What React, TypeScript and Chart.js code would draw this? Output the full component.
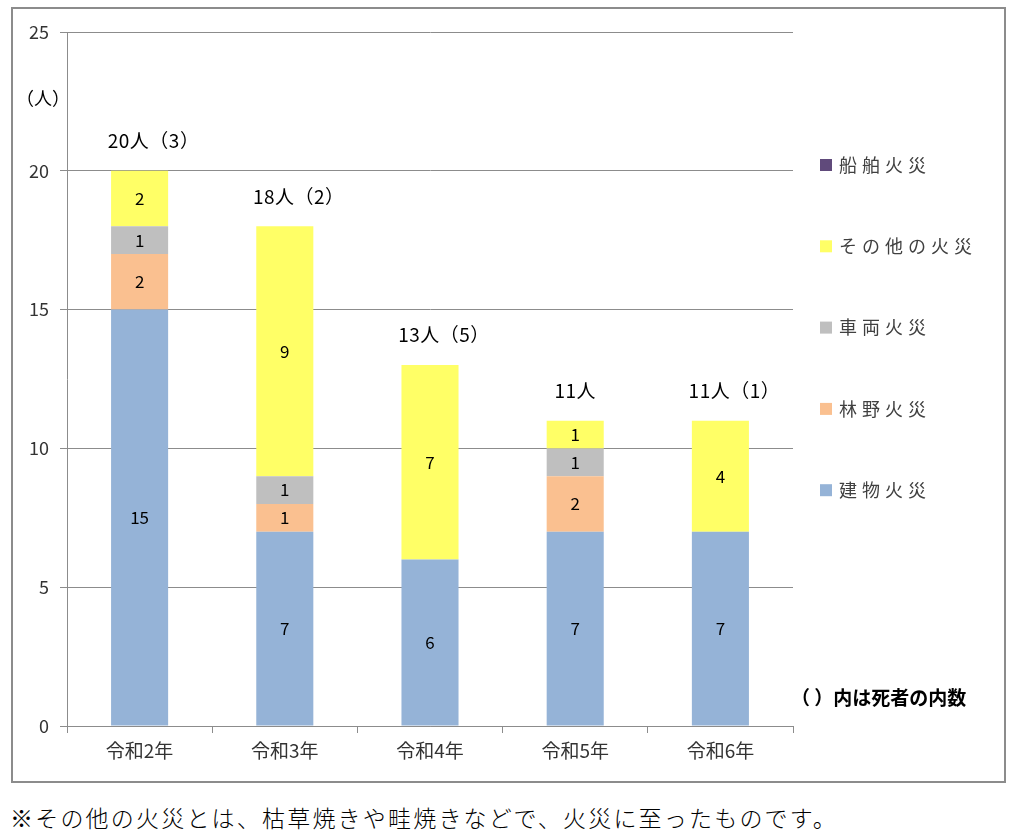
import React, { useEffect, useRef } from "react";
import { Chart, registerables } from "chart.js";

Chart.register(...registerables);

const categories = ["令和2年", "令和3年", "令和4年", "令和5年", "令和6年"];
const building = [15, 7, 6, 7, 7];
const forest = [2, 1, 0, 2, 0];
const vehicle = [1, 1, 0, 1, 0];
const other = [2, 9, 7, 1, 4];
const ship = [0, 0, 0, 0, 0];
const deaths: (number | null)[] = [3, 2, 5, null, 1];
const seriesNames = ["建物火災", "林野火災", "車両火災", "その他の火災", "船舶火災"];
const seriesColors = ["#95b3d7", "#fac090", "#bfbfbf", "#ffff66", "#604a7b"];
const yTicks = [0, 5, 10, 15, 20, 25];

const FONT = "'Noto Sans CJK JP', 'Noto Sans', sans-serif";

const overlay = {
  id: "overlay",
  afterDatasetsDraw(chart: any) {
    const ctx = chart.ctx;
    const area = chart.chartArea;
    ctx.save();
    // segment labels
    ctx.font = `17px ${FONT}`;
    ctx.fillStyle = "#000";
    ctx.textAlign = "center";
    ctx.textBaseline = "middle";
    chart.data.datasets.forEach((ds: any, di: number) => {
      const meta = chart.getDatasetMeta(di);
      meta.data.forEach((el: any, i: number) => {
        const v = ds.data[i];
        if (v > 0) {
          ctx.fillText(String(v), el.x, (el.y + el.base) / 2);
        }
      });
    });
    // total labels
    const yScale = chart.scales.y;
    const lastMeta = chart.getDatasetMeta(0);
    ctx.font = `19px ${FONT}`;
    (ctx as any).letterSpacing = "0.5px";
    categories.forEach((_, i) => {
      let total = 0;
      chart.data.datasets.forEach((ds: any) => (total += ds.data[i]));
      const d = deaths[i];
      const txt = `${total}人` + (d != null ? `（${d}）` : "");
      const x = lastMeta.data[i].x;
      ctx.fillText(txt, x + (d != null ? 14 : 0), yScale.getPixelForValue(total) - 30);
    });
    // unit
    ctx.textAlign = "left";
    ctx.font = `18px ${FONT}`;
    (ctx as any).letterSpacing = "0px";
    ctx.fillText("（人）", area.left - 51, area.top + 66);
    // note
    ctx.font = `bold 19px ${FONT}`;
    ctx.fillText("（ ）内は死者の内数", area.right - 2, area.bottom - 28);
    // legend
    ctx.font = `18px ${FONT}`;
    (ctx as any).letterSpacing = "5px";
    const n = chart.data.datasets.length;
    for (let k = 0; k < n; k++) {
      const di = n - 1 - k;
      const ds = chart.data.datasets[di];
      const y = area.top + 133 + k * 81.3;
      ctx.fillStyle = ds.backgroundColor;
      ctx.fillRect(area.right + 27, y - 6, 12, 12);
      ctx.fillStyle = "#404040";
      ctx.fillText(ds.label, area.right + 46, y);
    }
    ctx.restore();
  },
};

export default function App() {
  const ref = useRef<HTMLCanvasElement>(null);
  useEffect(() => {
    if (!ref.current) return;
    const values = [building, forest, vehicle, other, ship];
    const chart = new Chart(ref.current, {
      type: "bar",
      data: {
        labels: categories,
        datasets: values.map((v, i) => ({
          label: seriesNames[i],
          data: v,
          backgroundColor: seriesColors[i],
          borderWidth: 0,
          barPercentage: 0.393,
          categoryPercentage: 1,
        })),
      },
      options: {
        responsive: false,
        animation: false,
        devicePixelRatio: 1,
        layout: { padding: { top: 23, right: 211, left: 0, bottom: 0 } },
        plugins: { legend: { display: false }, tooltip: { enabled: false } },
        scales: {
          x: {
            stacked: true,
            grid: {
              drawOnChartArea: false,
              color: "#8c8c8c",
              tickLength: 7,
              offset: true,
            },
            border: { color: "#8c8c8c" },
            ticks: {
              color: "#333",
              font: { size: 19, family: FONT },
              padding: 6,
            },
            afterFit: (s: any) => {
              s.height = 55;
            },
          },
          y: {
            stacked: true,
            min: 0,
            max: 25,
            afterBuildTicks: (s: any) => {
              s.ticks = yTicks.map((v) => ({ value: v }));
            },
            grid: { color: "#8c8c8c", tickLength: 7 },
            border: { color: "#8c8c8c" },
            ticks: {
              color: "#333",
              font: { size: 18, family: FONT },
              padding: 11,
            },
            afterFit: (s: any) => {
              s.width = 54;
            },
          },
        },
      },
      plugins: [overlay],
    });
    return () => chart.destroy();
  }, []);

  return (
    <div style={{ position: "absolute", left: 0, top: 0, width: 1021, height: 837, background: "#fff" }}>
      <div
        style={{
          position: "absolute",
          left: 11,
          top: 7,
          width: 991,
          height: 772,
          border: "2px solid #8c8c8c",
        }}
      >
        <canvas ref={ref} width={991} height={772} style={{ display: "block" }} />
      </div>
      <div
        style={{
          position: "absolute",
          left: 10,
          top: 800,
          fontFamily: FONT,
          fontSize: 23,
          fontWeight: 300,
          letterSpacing: "2.2px",
          color: "#000",
          whiteSpace: "nowrap",
        }}
      >
        ※その他の火災とは、枯草焼きや畦焼きなどで、火災に至ったものです。
      </div>
    </div>
  );
}
